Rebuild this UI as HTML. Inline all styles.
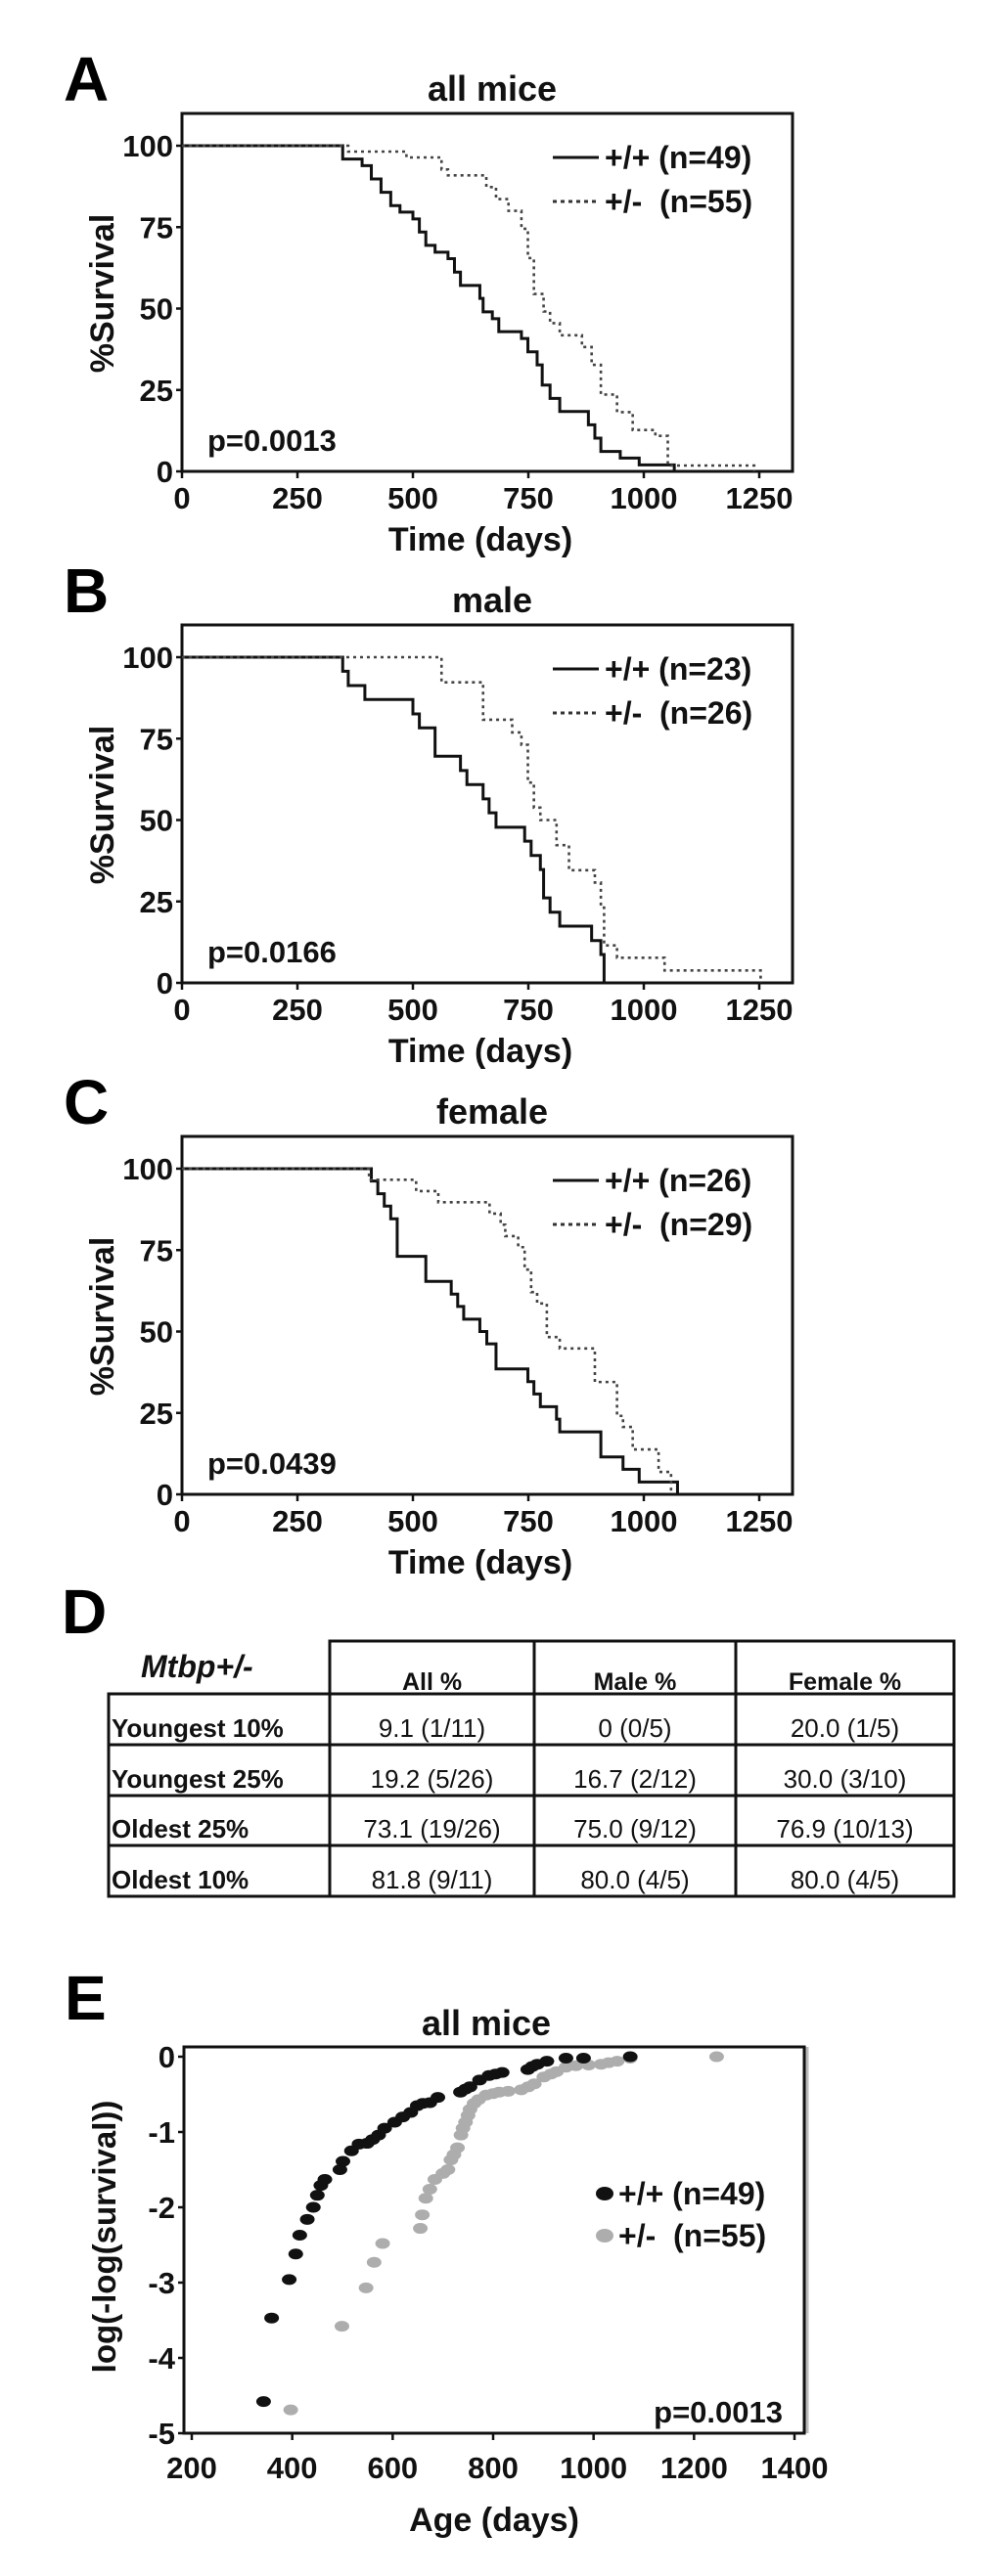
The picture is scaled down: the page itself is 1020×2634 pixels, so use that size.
<!DOCTYPE html>
<html><head><meta charset="utf-8">
<style>
html,body{margin:0;padding:0;background:#fff;}
svg{display:block;font-family:"Liberation Sans",Arial,sans-serif;}
</style></head>
<body>
<svg id="fig" width="1020" height="2634" viewBox="0 0 1020 2634" xmlns="http://www.w3.org/2000/svg"></svg>
<script>
// ---- Survival data (days, % survival after event) ----
const xTicksKM = [0,250,500,750,1000,1250];
const yTicksKM = [0,25,50,75,100];
const aWtDays = [348,390,410,431,452,472,500,514,528,548,576,590,603,645,652,672,686,735,749,769,780,797,818,880,894,907,949,990,1066];
const aWtSurv = [95.9,93.9,89.8,85.7,81.6,79.6,77.5,73.5,69.4,67.3,65.3,61.2,57.1,53.1,49.0,46.9,42.9,40.8,36.7,32.7,26.5,22.4,18.4,14.3,10.2,6.1,4.1,2.0,0];
const aHetDays = [360,486,562,576,659,680,707,735,749,762,783,797,818,866,887,907,942,976,1025,1052,1239];
const aHetSurv = [98.2,96.4,92.7,90.9,87.3,83.6,80.0,74.5,65.5,54.5,49.1,45.5,41.8,38.2,32.7,23.6,18.2,12.7,10.9,1.8,0];
const bWtDays = [348,360,396,500,514,548,603,617,652,665,680,742,756,776,783,797,818,887,907,914];
const bWtSurv = [95.7,91.3,87.0,82.6,78.3,69.6,65.2,60.9,56.5,52.2,47.8,43.5,39.1,34.8,26.1,21.7,17.4,13.0,8.7,0];
const bHetDays = [562,652,715,735,749,762,776,811,838,894,907,914,942,1045,1253];
const bHetSurv = [92.3,80.8,76.9,73.1,61.5,53.8,50.0,42.3,34.6,30.8,23.1,11.5,7.7,3.8,0];
const cWtDays = [410,424,438,452,466,528,583,597,610,645,660,680,749,762,776,811,818,907,955,990,1073];
const cWtSurv = [96.2,92.3,88.5,84.6,73.1,65.4,61.5,57.7,53.8,50.0,46.2,38.5,34.6,30.8,26.9,23.1,19.2,11.5,7.7,3.8,0];
const cHetDays = [405,507,555,666,690,700,728,742,756,769,790,818,894,942,955,976,1032,1059];
const cHetSurv = [96.6,93.1,89.7,86.2,82.8,79.3,75.9,69.0,62.1,58.6,48.3,44.8,34.5,24.1,20.7,13.8,6.9,0];

// ---- Log-log data ----
const xTicksE = [200,400,600,800,1000,1200,1400];
const yTicksE = [0,-1,-2,-3,-4,-5];
const eWtX = [343,359,394,407,415,430,442,450,457,465,495,501,518,533,549,560,572,584,604,620,636,649,660,674,690,735,745,754,773,792,805,818,869,878,888,907,945,980,1073];
const eWtY = [-4.58,-3.47,-2.96,-2.62,-2.37,-2.16,-2.0,-1.84,-1.71,-1.63,-1.5,-1.39,-1.25,-1.16,-1.15,-1.1,-1.04,-0.95,-0.87,-0.8,-0.74,-0.65,-0.62,-0.61,-0.54,-0.47,-0.43,-0.40,-0.31,-0.25,-0.23,-0.21,-0.17,-0.13,-0.10,-0.06,-0.02,-0.02,0];
const eHetX = [397,499,547,563,580,655,659,666,674,684,700,710,716,722,729,736,740,745,750,754,762,771,786,800,812,830,856,870,882,901,915,926,945,965,990,1015,1030,1047,1073,1245];
const eHetY = [-4.69,-3.58,-3.07,-2.73,-2.48,-2.28,-2.10,-1.88,-1.76,-1.63,-1.55,-1.50,-1.37,-1.30,-1.21,-1.04,-0.95,-0.87,-0.78,-0.70,-0.62,-0.57,-0.51,-0.49,-0.47,-0.46,-0.44,-0.40,-0.36,-0.27,-0.23,-0.20,-0.14,-0.12,-0.11,-0.10,-0.08,-0.06,-0.02,0];

const NS = "http://www.w3.org/2000/svg";
const svg = document.getElementById('fig');
function mk(tag, attrs, parent, txt){
  const e = document.createElementNS(NS, tag);
  for (const k in attrs) e.setAttribute(k, attrs[k]);
  if (txt !== undefined) e.textContent = txt;
  (parent||svg).appendChild(e);
  return e;
}
function text(x,y,s,size,opts,parent){
  opts = opts||{};
  const t = mk('text',{x:x,y:y,'font-size':size,'font-weight':opts.w||'bold','text-anchor':opts.a||'start','fill':opts.fill||'#111'},parent,s);
  if (opts.style) t.setAttribute('style',opts.style);
  if (opts.tr) t.setAttribute('transform',opts.tr);
  return t;
}

function kmPanel(letter, title, off, wtD, wtS, hetD, hetS, leg1, leg2, pval, key){
  const g = mk('g',{});
  
  
  const L=186, R=810, T=116+off, Y0=482+off, Y100=149+off;
  const sx = d => L + d*(776-186)/1250;
  const sy = v => Y0 - v*(Y0-Y100)/100;
  const lt = text(65,103+off,letter,64,{fill:'#000'},g);
  
  
  const tt = text(503,103+off,title,36,{a:'middle'},g);
  
  
  const fr = mk('rect',{x:L,y:T,width:R-L,height:Y0-T,fill:'none',stroke:'#111','stroke-width':3},g);
  
  
  yTicksKM.forEach(v=>{
    mk('line',{x1:L-6,x2:L,y1:sy(v),y2:sy(v),stroke:'#111','stroke-width':2.5},g);
    const t = text(L-9,sy(v)+11,String(v),31,{a:'end'},g);
    
    
  });
  xTicksKM.forEach(v=>{
    mk('line',{x1:sx(v),x2:sx(v),y1:Y0,y2:Y0+7,stroke:'#111','stroke-width':2.5},g);
    const t = text(sx(v),520+off,String(v),31,{a:'middle'},g);
    
    
  });
  const xl = text(491,563+off,'Time (days)',34,{a:'middle'},g);
  
  
  const yl = text(0,0,'%Survival',34,{a:'middle',tr:'translate(116,'+(300+off)+') rotate(-90)'},g);
  
  
  function stepPath(days, surv){
    let d = 'M'+sx(0)+','+sy(100);
    let cur = 100;
    for (let i=0;i<days.length;i++){
      d += ' H'+sx(days[i])+' V'+sy(surv[i]);
      cur = surv[i];
    }
    return d;
  }
  const p1 = mk('path',{d:stepPath(wtD,wtS),fill:'none',stroke:'#111','stroke-width':3},g);
  
  
  const p2 = mk('path',{d:stepPath(hetD,hetS),fill:'none',stroke:'#444','stroke-width':2.6,'stroke-dasharray':'3,4'},g);
  
  
  const ly1 = 161+off, ly2 = 206+off;
  mk('line',{x1:565,x2:612,y1:ly1,y2:ly1,stroke:'#111','stroke-width':3},g);
  mk('line',{x1:565,x2:612,y1:ly2,y2:ly2,stroke:'#333','stroke-width':3,'stroke-dasharray':'4,4'},g);
  const l1 = text(618,ly1+11,leg1,32,{},g);
  
  
  const l2 = text(618,ly2+11,leg2,32,{style:'white-space:pre'},g);
  
  
  const pv = text(212,461+off,pval,31,{},g);
  
  
}

kmPanel('A','all mice',0,aWtDays,aWtSurv,aHetDays,aHetSurv,'+/+ (n=49)','+/-  (n=55)','p=0.0013','a');
kmPanel('B','male',523,bWtDays,bWtSurv,bHetDays,bHetSurv,'+/+ (n=23)','+/-  (n=26)','p=0.0166','b');
kmPanel('C','female',1046,cWtDays,cWtSurv,cHetDays,cHetSurv,'+/+ (n=26)','+/-  (n=29)','p=0.0439','c');

// ---- Table D ----
(function(){
  const g = mk('g',{});
  
  
  const ld = text(63,1670,'D',64,{fill:'#000'},g);
  
  
  const cols=[111,337,546,752,975];
  const rows=[1732,1784,1836,1887,1939];
  const sw=3;
  mk('rect',{x:337,y:1678,width:975-337,height:1732-1678,fill:'none',stroke:'#111','stroke-width':sw},g);
  mk('rect',{x:111,y:1732,width:975-111,height:1939-1732,fill:'none',stroke:'#111','stroke-width':sw},g);
  [337,546,752].forEach(x=>mk('line',{x1:x,x2:x,y1:1678,y2:1939,stroke:'#111','stroke-width':sw},g));
  [1784,1836,1887].forEach(y=>mk('line',{x1:111,x2:975,y1:y,y2:y,stroke:'#111','stroke-width':sw},g));
  const mt = text(144,1715,'Mtbp+/-',32,{style:'font-style:italic'},g);
  
  
  const heads=['All %','Male %','Female %'];
  heads.forEach((h,i)=>{
    const t = text((cols[i+1]+cols[i+2])/2,1728,h,25,{a:'middle'},g);
    
    
  });
  const rl=['Youngest 10%','Youngest 25%','Oldest 25%','Oldest 10%'];
  const vals=[['9.1 (1/11)','0 (0/5)','20.0 (1/5)'],['19.2 (5/26)','16.7 (2/12)','30.0 (3/10)'],['73.1 (19/26)','75.0 (9/12)','76.9 (10/13)'],['81.8 (9/11)','80.0 (4/5)','80.0 (4/5)']];
  rl.forEach((r,i)=>{
    const y = rows[i+1]-8;
    const t = text(114,y,r,26,{},g);
    
    
    vals[i].forEach((v,j)=>{
      const c = text((cols[j+1]+cols[j+2])/2,y,v,26,{a:'middle',w:'normal'},g);
      
      
    });
  });
})();

// ---- Panel E ----
(function(){
  const g = mk('g',{});
  
  
  const L=188,R=822,T=2093,B=2488;
  const sx = d => 196 + (d-200)*(812-196)/1200;
  const sy = v => 2103 - v*(2103-2488)/(-5);
  const le = text(66,2065,'E',64,{fill:'#000'},g);
  
  
  const tt = text(497,2081,'all mice',36,{a:'middle'},g);
  
  
  const fr = mk('rect',{x:L,y:T,width:R-L,height:B-T,fill:'none',stroke:'#111','stroke-width':3},g);
  
  
  mk('line',{x1:R+3,x2:R+3,y1:T,y2:B,stroke:'#bbb','stroke-width':3},g);
  yTicksE.forEach(v=>{
    mk('line',{x1:L-6,x2:L,y1:sy(v),y2:sy(v),stroke:'#111','stroke-width':2.5},g);
    const t = text(L-9,sy(v)+11,String(v),31,{a:'end'},g);
    
    
  });
  xTicksE.forEach(v=>{
    mk('line',{x1:sx(v),x2:sx(v),y1:B,y2:B+7,stroke:'#111','stroke-width':2.5},g);
    const t = text(sx(v),2534,String(v),31,{a:'middle'},g);
    
    
  });
  const xl = text(505,2588,'Age (days)',34,{a:'middle'},g);
  
  
  const yl = text(0,0,'log(-log(survival))',33,{a:'middle',tr:'translate(118,2287) rotate(-90)'},g);
  
  
  eHetX.forEach((x,i)=>{
    const c = mk('ellipse',{cx:sx(x),cy:sy(eHetY[i]),rx:7.5,ry:5.5,fill:'#adadad'},g);
    
    
  });
  eWtX.forEach((x,i)=>{
    const c = mk('ellipse',{cx:sx(x),cy:sy(eWtY[i]),rx:7.5,ry:5.5,fill:'#111'},g);
    
    
  });
  mk('ellipse',{cx:618,cy:2243,rx:9,ry:7,fill:'#111'},g);
  mk('ellipse',{cx:618,cy:2286,rx:9,ry:7,fill:'#adadad'},g);
  const l1 = text(632,2254,'+/+ (n=49)',32,{},g);
  
  
  const l2 = text(632,2297,'+/-  (n=55)',32,{style:'white-space:pre'},g);
  
  
  const pv = text(800,2477,'p=0.0013',31,{a:'end'},g);
  
  
})();
</script>
</body></html>
